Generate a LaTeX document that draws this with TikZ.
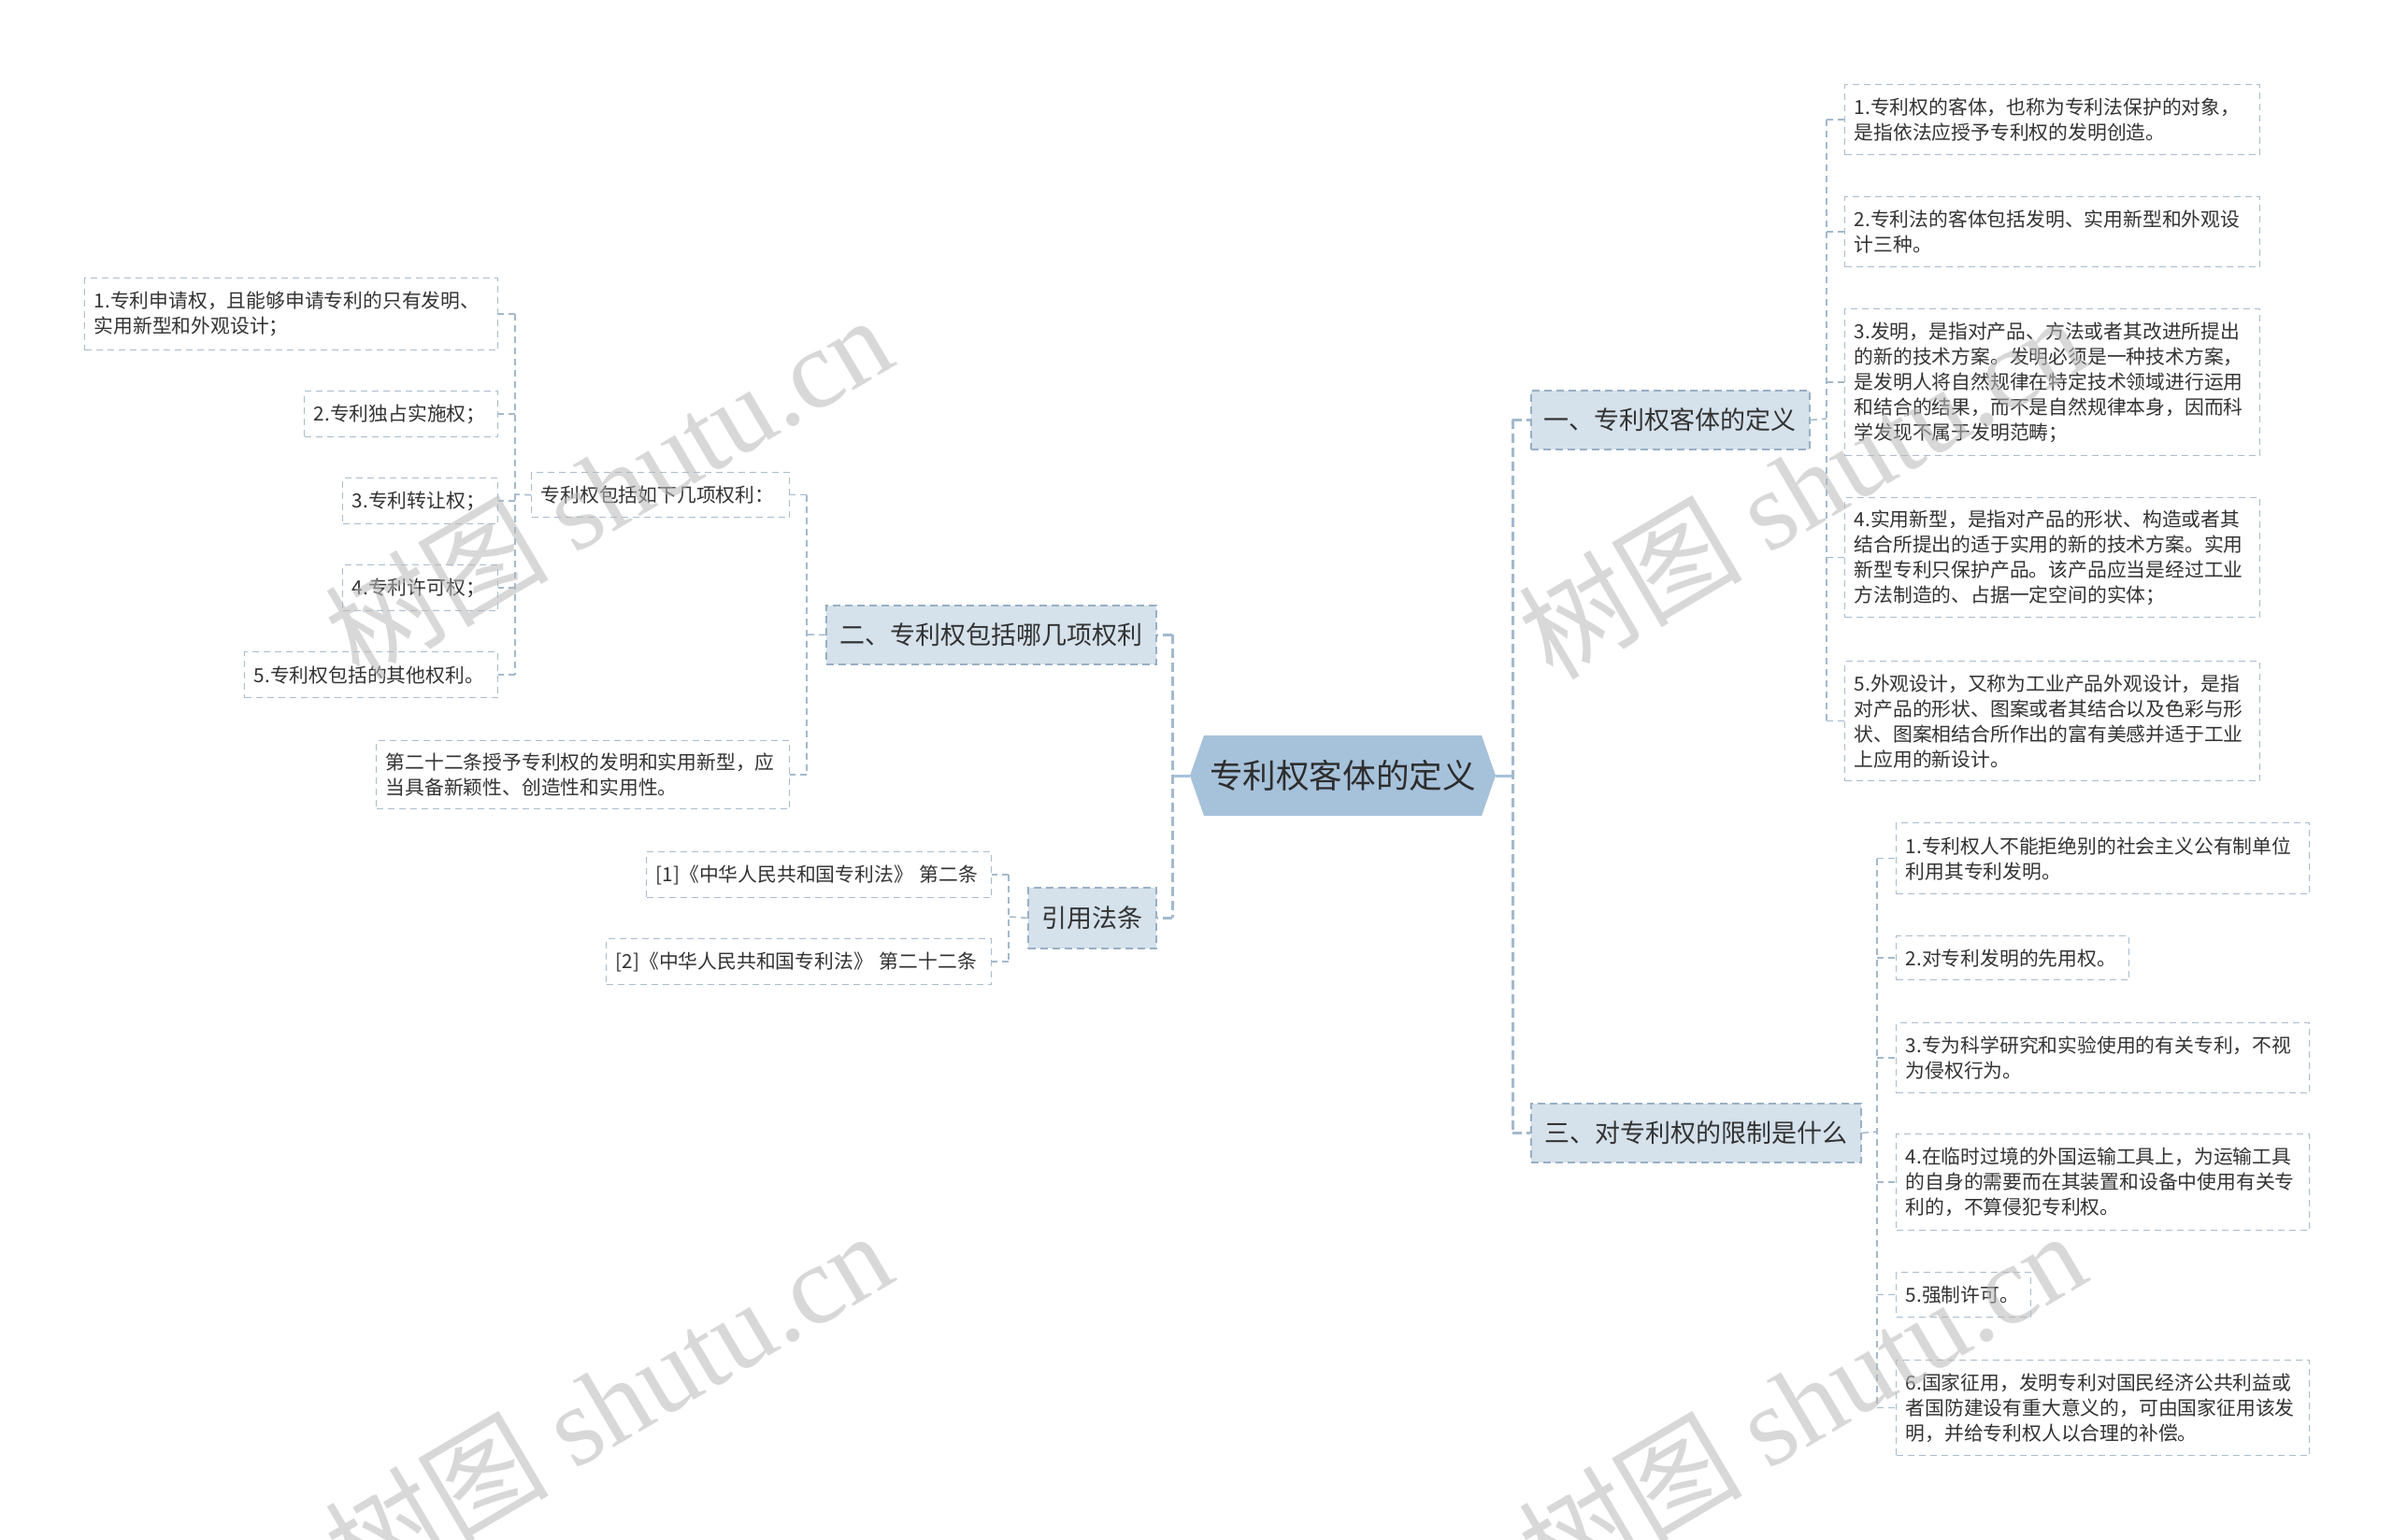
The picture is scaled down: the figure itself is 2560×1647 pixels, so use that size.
\documentclass[tikz,border=0pt]{standalone}
\usepackage{fontspec}
\setmainfont{Noto Sans CJK SC}
\newfontfamily\wmlatin{Liberation Serif}
\definecolor{rootc}{HTML}{A6C1DA}
\definecolor{roottxt}{HTML}{2D2D2D}
\definecolor{branchfill}{HTML}{D5E1EB}
\definecolor{branchdraw}{HTML}{97AFC5}
\definecolor{leafc}{HTML}{A9BCCD}
\definecolor{connc}{HTML}{A3B9CD}
\definecolor{txt}{HTML}{333333}
\definecolor{wmc}{HTML}{B8B8B8}
\begin{document}
\begin{tikzpicture}[x=1pt,y=-1pt,
  leaf/.style={draw=leafc, line width=1.4pt, dash pattern=on 7pt off 5pt, fill=white, text=txt,
    font=\fontsize{20.8pt}{27pt}\selectfont, align=left, anchor=north west, inner xsep=10pt, inner ysep=0pt},
  branch/.style={draw=branchdraw, line width=1.8pt, dash pattern=on 8pt off 5pt, fill=branchfill, text=txt,
    font=\fontsize{27pt}{32pt}\selectfont, align=center, anchor=north west, inner sep=0pt},
  rootnode/.style={text=roottxt, font=\fontsize{35.6pt}{40pt}\selectfont, inner sep=0pt},
  conn/.style={draw=connc, line width=1.5pt, dash pattern=on 7pt off 5pt},
  connthick/.style={draw=connc, line width=3pt, dash pattern=on 10pt off 5pt},
  rootline/.style={draw=rootc, line width=3pt},
  wm/.style={text=wmc, text opacity=0.55, font=\fontsize{120pt}{120pt}\selectfont, inner sep=0pt}
]
\useasboundingbox (0,0) rectangle (2560,1647);
\fill[white] (0,0) rectangle (2560,1647);

% root hexagon
\fill[rootc] (1273,830) -- (1288,787) -- (1585,787) -- (1600,830) -- (1585,873) -- (1288,873) -- cycle;
\node[rootnode, minimum width=327pt, minimum height=86pt] (root) at (1436.5,830) {专利权客体的定义};

% branches
\node[branch, minimum width=298pt, minimum height=63pt] (b1) at (1637,417) {一、专利权客体的定义};
\node[branch, minimum width=353pt, minimum height=63pt] (b3) at (1637,1180) {三、对专利权的限制是什么};
\node[branch, minimum width=353pt, minimum height=63pt] (b2) at (883,647) {二、专利权包括哪几项权利};
\node[branch, minimum width=137pt, minimum height=65pt] (b4) at (1099,949) {引用法条};

% branch 1 leaves
\node[leaf, text width=424pt, minimum height=75pt] (r1) at (1973,90) {1.专利权的客体，也称为专利法保护的对象，\\是指依法应授予专利权的发明创造。};
\node[leaf, text width=424pt, minimum height=75pt] (r2) at (1973,210) {2.专利法的客体包括发明、实用新型和外观设\\计三种。};
\node[leaf, text width=424pt, minimum height=157pt] (r3) at (1973,330) {3.发明，是指对产品、方法或者其改进所提出\\的新的技术方案。发明必须是一种技术方案，\\是发明人将自然规律在特定技术领域进行运用\\和结合的结果，而不是自然规律本身，因而科\\学发现不属于发明范畴；};
\node[leaf, text width=424pt, minimum height=128pt] (r4) at (1973,532) {4.实用新型，是指对产品的形状、构造或者其\\结合所提出的适于实用的新的技术方案。实用\\新型专利只保护产品。该产品应当是经过工业\\方法制造的、占据一定空间的实体；};
\node[leaf, text width=424pt, minimum height=128pt] (r5) at (1973,707) {5.外观设计，又称为工业产品外观设计，是指\\对产品的形状、图案或者其结合以及色彩与形\\状、图案相结合所作出的富有美感并适于工业\\上应用的新设计。};

% branch 3 leaves
\node[leaf, text width=422pt, minimum height=76pt] (t1) at (2028,880) {1.专利权人不能拒绝别的社会主义公有制单位\\利用其专利发明。};
\node[leaf, text width=229pt, minimum height=47pt] (t2) at (2028,1001) {2.对专利发明的先用权。};
\node[leaf, text width=422pt, minimum height=75pt] (t3) at (2028,1094) {3.专为科学研究和实验使用的有关专利，不视\\为侵权行为。};
\node[leaf, text width=422pt, minimum height=103pt] (t4) at (2028,1213) {4.在临时过境的外国运输工具上，为运输工具\\的自身的需要而在其装置和设备中使用有关专\\利的，不算侵犯专利权。};
\node[leaf, text width=124pt, minimum height=48pt] (t5) at (2028,1361) {5.强制许可。};
\node[leaf, text width=422pt, minimum height=102pt] (t6) at (2028,1455) {6.国家征用，发明专利对国民经济公共利益或\\者国防建设有重大意义的，可由国家征用该发\\明，并给专利权人以合理的补偿。};

% branch 2 children
\node[leaf, text width=256pt, minimum height=48pt] (p) at (568,505) {专利权包括如下几项权利：};
\node[leaf, text width=422pt, minimum height=73pt] (q) at (402,792) {第二十二条授予专利权的发明和实用新型，应\\当具备新颖性、创造性和实用性。};

% rights leaves
\node[leaf, text width=422pt, minimum height=77pt] (l1) at (90,297) {1.专利申请权，且能够申请专利的只有发明、\\实用新型和外观设计；};
\node[leaf, text width=187pt, minimum height=49pt] (l2) at (325,418) {2.专利独占实施权；};
\node[leaf, text width=146pt, minimum height=49pt] (l3) at (366,511) {3.专利转让权；};
\node[leaf, text width=146pt, minimum height=49pt] (l4) at (366,604) {4.专利许可权；};
\node[leaf, text width=251pt, minimum height=49pt] (l5) at (261,697) {5.专利权包括的其他权利。};

% citations
\node[leaf, text width=349pt, minimum height=49pt] (c1) at (691,911) {[1]《中华人民共和国专利法》 第二条};
\node[leaf, text width=392pt, minimum height=49pt] (c2) at (648,1004) {[2]《中华人民共和国专利法》 第二十二条};

% spine coordinates
\coordinate (sR) at (1618,830);
\coordinate (sL) at (1254,830);
\coordinate (s1) at (1954,448);
\coordinate (s3) at (2008,1211);
\coordinate (s2) at (863,679);
\coordinate (sp) at (551,529);
\coordinate (s4) at (1079,981);

% root connectors
\draw[rootline] (root.east) -- (sR);
\draw[rootline] (root.west) -- (sL);
\draw[connthick] (sR |- b1.west) -- (sR |- b3.west);
\draw[connthick] (sR |- b1.west) -- (b1.west);
\draw[connthick] (sR |- b3.west) -- (b3.west);
\draw[connthick] (sL |- b2.east) -- (sL |- b4.east);
\draw[connthick] (sL |- b2.east) -- (b2.east);
\draw[connthick] (sL |- b4.east) -- (b4.east);

% branch 1 connectors
\draw[conn] (b1.east) -- (s1);
\draw[conn] (s1 |- r1.west) -- (s1 |- r5.west);
\foreach \n in {r1,r2,r3,r4,r5} \draw[conn] (s1 |- \n.west) -- (\n.west);

% branch 3 connectors
\draw[conn] (b3.east) -- (s3);
\draw[conn] (s3 |- t1.west) -- (s3 |- t6.west);
\foreach \n in {t1,t2,t3,t4,t5,t6} \draw[conn] (s3 |- \n.west) -- (\n.west);

% branch 2 connectors
\draw[conn] (b2.west) -- (s2);
\draw[conn] (s2 |- p.east) -- (s2 |- q.east);
\foreach \n in {p,q} \draw[conn] (s2 |- \n.east) -- (\n.east);

% rights connectors
\draw[conn] (p.west) -- (sp);
\draw[conn] (sp |- l1.east) -- (sp |- l5.east);
\foreach \n in {l1,l2,l3,l4,l5} \draw[conn] (sp |- \n.east) -- (\n.east);

% citation connectors
\draw[conn] (b4.west) -- (s4);
\draw[conn] (s4 |- c1.east) -- (s4 |- c2.east);
\foreach \n in {c1,c2} \draw[conn] (s4 |- \n.east) -- (\n.east);

% watermarks
\node[wm, rotate=30.5] (wm1) at (650,520) {树图 {\wmlatin shutu.cn}};
\node[wm, rotate=30.5] (wm2) at (650,1500) {树图 {\wmlatin shutu.cn}};
\node[wm, rotate=30.5] (wm3) at (1927,520) {树图 {\wmlatin shutu.cn}};
\node[wm, rotate=30.5] (wm4) at (1927,1500) {树图 {\wmlatin shutu.cn}};
\end{tikzpicture}
\end{document}
